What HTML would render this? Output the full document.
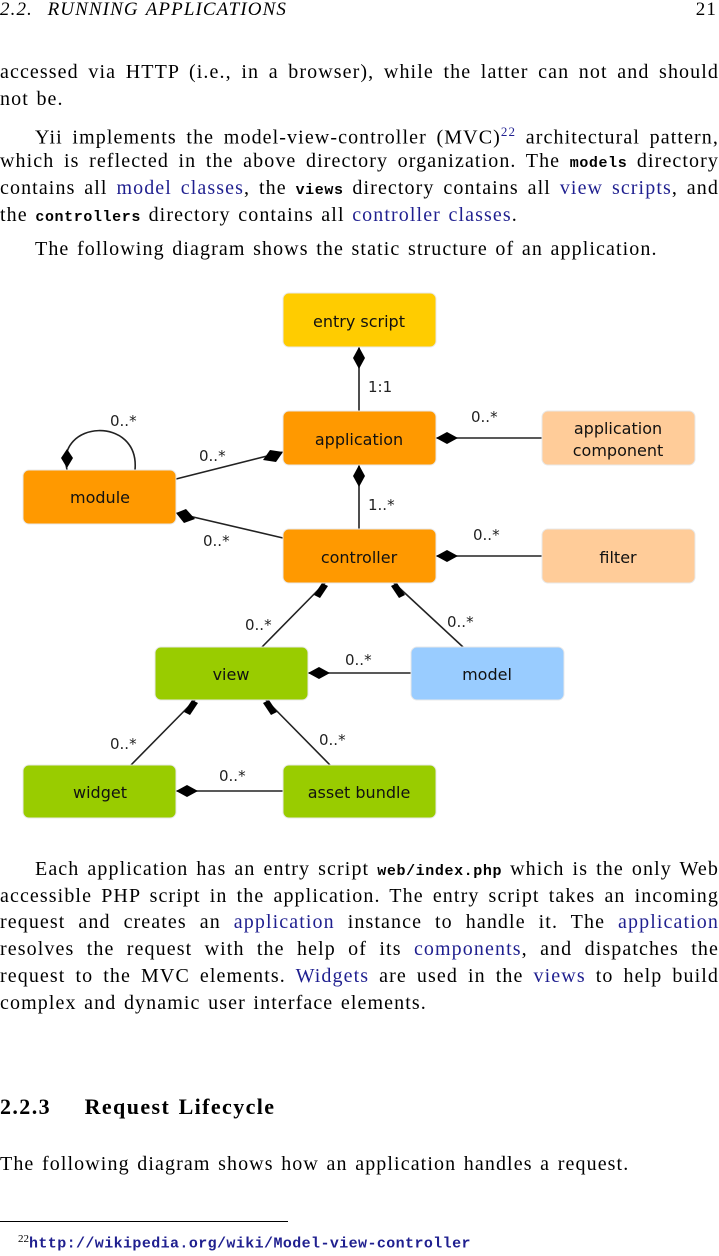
<!DOCTYPE html>
<html><head><meta charset="utf-8"><style>
body{margin:0;width:719px;height:1247px;position:relative;background:#fff;font-family:"Liberation Serif",serif;color:#000;overflow:hidden}
.l{position:absolute;left:0;width:719px;font-size:20px;line-height:22px;white-space:nowrap;letter-spacing:1.1px;word-spacing:1.5px}
.j{text-align:justify;text-align-last:justify;white-space:normal}
.a{color:#1f1f8f}
tt{font-family:"Liberation Mono",monospace;font-weight:bold;font-size:15px;letter-spacing:0.6px}
svg{position:absolute;left:0;top:0}
</style></head><body>
<div class="l" style="top:-1px;font-style:italic;font-size:19px">2.2.&nbsp; RUNNING APPLICATIONS<span style="position:absolute;right:2px;font-style:normal">21</span></div>
<div class="l j" style="top:61px">accessed via HTTP (i.e., in a browser), while the latter can not and should</div>
<div class="l" style="top:88px">not be.</div>
<div class="l j" style="top:121px;left:35px;width:684px">Yii implements the model-view-controller (MVC)<sup style="font-size:13px;color:#1f1f8f">22</sup> architectural pattern,</div>
<div class="l j" style="top:150px">which is reflected in the above directory organization. The <tt>models</tt> directory</div>
<div class="l j" style="top:177px">contains all <span class="a">model classes</span>, the <tt>views</tt> directory contains all <span class="a">view scripts</span>, and</div>
<div class="l" style="top:204px">the <tt>controllers</tt> directory contains all <span class="a">controller classes</span>.</div>
<div class="l" style="top:238px;left:35px">The following diagram shows the static structure of an application.</div>

<svg width="719" height="1247" font-family="DejaVu Sans, sans-serif" font-size="16">
<g stroke="#222" stroke-width="1.6" fill="none">
<line x1="359" y1="347" x2="359" y2="411"/>
<line x1="436" y1="438" x2="542" y2="438"/>
<line x1="359" y1="465" x2="359" y2="529"/>
<line x1="436" y1="556" x2="542" y2="556"/>
<line x1="176" y1="479" x2="283" y2="452"/>
<line x1="176" y1="513" x2="283" y2="538"/>
<path d="M67 470 C55 420 140 415 135 470"/>
<line x1="325" y1="583" x2="262" y2="647"/>
<line x1="394" y1="583" x2="463" y2="647"/>
<line x1="308" y1="673" x2="411" y2="673"/>
<line x1="195" y1="700" x2="131" y2="765"/>
<line x1="266" y1="700" x2="330" y2="765"/>
<line x1="176" y1="791" x2="283" y2="791"/>
</g>
<g fill="#000">
<polygon points="359,347 365,358 359,369 353,358"/>
<polygon points="436,438 447,432 458,438 447,444"/>
<polygon points="359,465 365,476 359,487 353,476"/>
<polygon points="436,556 447,550 458,556 447,562"/>
<polygon points="283,452 276,462 263,460 270,450"/>
<polygon points="176,513 186,509 195,519 184,523"/>
<polygon points="67,449 73,458 67,468 61,458"/>
<polygon points="322,583 328,586 320,598 314,595"/>
<polygon points="397,583 391,586 399,598 405,595"/>
<polygon points="308,673 319,667 330,673 319,679"/>
<polygon points="192,700 198,703 190,715 184,712"/>
<polygon points="269,700 263,703 271,715 277,712"/>
<polygon points="176,791 187,785 198,791 187,797"/>
</g>
<g stroke="#e8e8e8" stroke-width="1">
<rect x="283" y="293" width="153" height="54" rx="6" fill="#ffcc00"/>
<rect x="283" y="411" width="153" height="54" rx="6" fill="#ff9900"/>
<rect x="542" y="411" width="153" height="54" rx="6" fill="#ffcc99"/>
<rect x="23" y="470" width="153" height="54" rx="6" fill="#ff9900"/>
<rect x="283" y="529" width="153" height="54" rx="6" fill="#ff9900"/>
<rect x="542" y="529" width="153" height="54" rx="6" fill="#ffcc99"/>
<rect x="155" y="647" width="153" height="53" rx="6" fill="#99cc00"/>
<rect x="411" y="647" width="153" height="53" rx="6" fill="#99ccff"/>
<rect x="23" y="765" width="153" height="53" rx="6" fill="#99cc00"/>
<rect x="283" y="765" width="153" height="53" rx="6" fill="#99cc00"/>
</g>
<g fill="#111" text-anchor="middle">
<text x="359" y="327">entry script</text>
<text x="359" y="445">application</text>
<text x="618" y="434">application</text>
<text x="618" y="456">component</text>
<text x="100" y="503">module</text>
<text x="359" y="563">controller</text>
<text x="618" y="563">filter</text>
<text x="231" y="680">view</text>
<text x="487" y="680">model</text>
<text x="100" y="798">widget</text>
<text x="359" y="798">asset bundle</text>
</g>
<g fill="#222" font-size="15">
<text x="368" y="392">1:1</text>
<text x="368" y="510">1..*</text>
<text x="471" y="422">0..*</text>
<text x="473" y="540">0..*</text>
<text x="110" y="426">0..*</text>
<text x="199" y="461">0..*</text>
<text x="203" y="546">0..*</text>
<text x="245" y="630">0..*</text>
<text x="447" y="627">0..*</text>
<text x="345" y="665">0..*</text>
<text x="110" y="749">0..*</text>
<text x="319" y="745">0..*</text>
<text x="219" y="781">0..*</text>
</g>
</svg>

<div class="l j" style="top:858px;left:35px;width:684px">Each application has an entry script <tt>web/index.php</tt> which is the only Web</div>
<div class="l j" style="top:885px">accessible PHP script in the application. The entry script takes an incoming</div>
<div class="l j" style="top:911px">request and creates an <span class="a">application</span> instance to handle it. The <span class="a">application</span></div>
<div class="l j" style="top:938px">resolves the request with the help of its <span class="a">components</span>, and dispatches the</div>
<div class="l j" style="top:965px">request to the MVC elements. <span class="a">Widgets</span> are used in the <span class="a">views</span> to help build</div>
<div class="l" style="top:992px">complex and dynamic user interface elements.</div>
<div class="l" style="top:1095px;font-weight:bold;font-size:22px;line-height:24px;letter-spacing:1.4px">2.2.3&nbsp;&nbsp;&nbsp; Request Lifecycle</div>
<div class="l" style="top:1153px">The following diagram shows how an application handles a request.</div>
<div style="position:absolute;left:0;top:1221px;width:288px;border-top:1px solid #000"></div>
<div class="l" style="top:1228px;font-size:14px;letter-spacing:0"><sup style="font-size:11px;padding-left:18px">22</sup><tt style="color:#1f1f8f;font-size:15px;letter-spacing:0.4px">http://wikipedia.org/wiki/Model-view-controller</tt></div>
</body></html>
